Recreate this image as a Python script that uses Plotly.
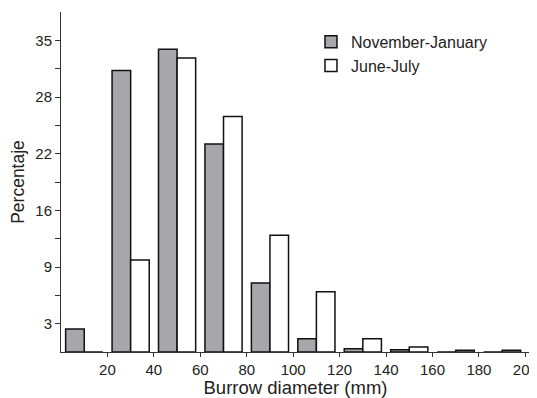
import plotly.graph_objects as go

# Bin starts (mm)
bins = [0, 20, 40, 60, 80, 100, 120, 140, 160, 180]
nov_jan = [2.6, 31.8, 34.2, 23.5, 7.8, 1.5, 0.37, 0.26, 0.0, 0.0]
june_july = [0.0, 10.4, 33.2, 26.6, 13.2, 6.8, 1.5, 0.56, 0.2, 0.2]

x_ticks = [20, 40, 60, 80, 100, 120, 140, 160, 180, 200]
y_tickvals = [3.2, 6.4, 9.6, 12.8, 16.0, 19.2, 22.4, 25.6, 28.8, 32.0, 35.2]
y_ticktext = ["3", "", "9", "", "16", "", "22", "", "28", "", "35"]

FONT = "Liberation Sans, Arial, Helvetica, sans-serif"
TXT = "#222222"

fig = go.Figure()
fig.add_trace(go.Bar(
    x=[b + 6 for b in bins], y=nov_jan, width=8, name="November-January",
    marker=dict(color="#a7a7ab", line=dict(color="#111111", width=1.5)),
))
fig.add_trace(go.Bar(
    x=[b + 14 for b in bins], y=june_july, width=8, name="June-July",
    marker=dict(color="#ffffff", line=dict(color="#111111", width=1.5)),
))

# the page body adds an 8px margin; figure offset accounted for in margins
fig.update_layout(
    width=537, height=390,
    margin=dict(l=53, r=15, t=4, b=46, autoexpand=False),
    plot_bgcolor="white", paper_bgcolor="white",
    font=dict(family=FONT, color=TXT, size=15),
    barmode="overlay",
    showlegend=True,
    legend=dict(x=0.533, y=0.962, xanchor="left", yanchor="top",
                font=dict(size=16, family=FONT, color=TXT),
                bgcolor="rgba(0,0,0,0)", tracegroupgap=0, itemwidth=30),
    xaxis=dict(range=[0, 202], tickvals=x_ticks, ticks="outside", ticklen=4,
               tickcolor="#333", showline=True, linecolor="#333", linewidth=1,
               showgrid=False, zeroline=False, automargin=False,
               ticklabeloverflow="allow",
               tickfont=dict(size=15),
               title=dict(text="Burrow diameter (mm)", font=dict(size=18.5), standoff=4)),
    yaxis=dict(range=[0, 38.4], tickvals=y_tickvals, ticktext=y_ticktext,
               ticks="outside", ticklen=5, tickcolor="#333",
               showline=True, linecolor="#333", linewidth=1,
               showgrid=False, zeroline=False, automargin=False,
               tickfont=dict(size=15),
               title=dict(text="Percentaje", font=dict(size=17.5), standoff=8)),
)

fig.write_html("out.html")
